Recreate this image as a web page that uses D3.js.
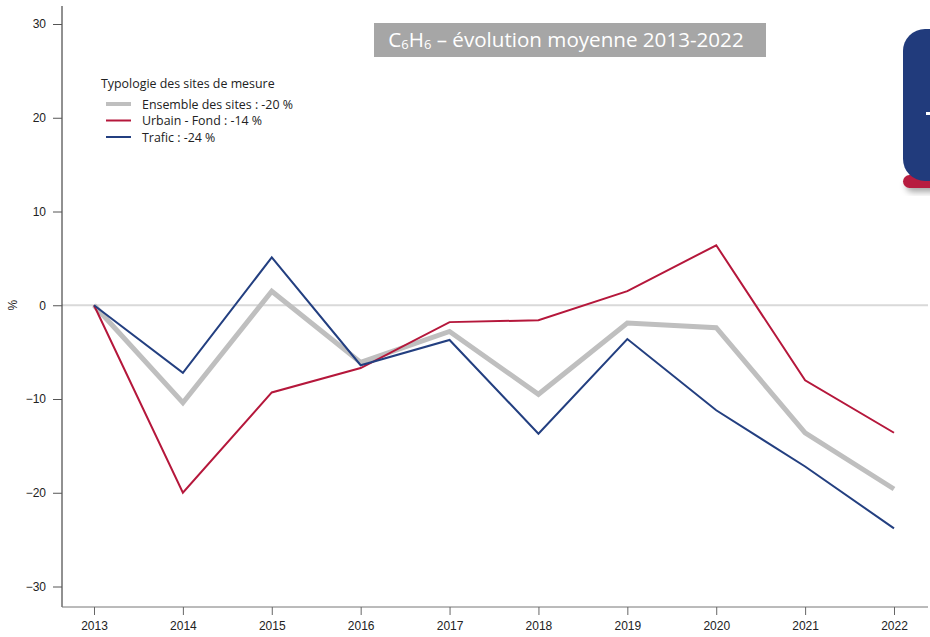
<!DOCTYPE html>
<html>
<head>
<meta charset="utf-8">
<script src="https://cdn.jsdelivr.net/npm/d3@7"></script>
<style>
  body { margin: 0; background: #fff; }
  svg { display: block; }
</style>
</head>
<body>
<svg width="930" height="637"></svg>
<script>
var years = [2013, 2014, 2015, 2016, 2017, 2018, 2019, 2020, 2021, 2022];
var ensemble = [0, -10.4, 1.5, -6.1, -2.8, -9.5, -1.9, -2.4, -13.6, -19.6];
var urbain = [0, -20.0, -9.3, -6.7, -1.8, -1.6, 1.5, 6.4, -8.0, -13.6];
var trafic = [0, -7.2, 5.1, -6.4, -3.7, -13.7, -3.6, -11.2, -17.2, -23.8];
var yTicks = [-30, -20, -10, 0, 10, 20, 30];
var seriesNames = ["Ensemble des sites : -20 %", "Urbain - Fond : -14 %", "Trafic : -24 %"];

var svg = d3.select("svg");

var series = [
  { name: seriesNames[0], values: ensemble, color: "#bfbfbf", width: 5 },
  { name: seriesNames[1], values: urbain, color: "#b5173b", width: 2 },
  { name: seriesNames[2], values: trafic, color: "#233f80", width: 2 }
];

var x = d3.scalePoint()
      .domain(years)
      .range([94, 894]);

var y = d3.scaleLinear()
      .domain([-30, 30])
      .range([586.5, 24]);

// decoration top right
var defs = svg.append("defs");
var f = defs.append("filter").attr("id", "shadow").attr("x", "-20%").attr("y", "-20%").attr("width", "160%").attr("height", "180%");
f.append("feDropShadow").attr("dx", 3).attr("dy", 4).attr("stdDeviation", 3).attr("flood-color", "#000").attr("flood-opacity", 0.35);

svg.append("rect")
  .attr("x", 903).attr("y", 175).attr("width", 60).attr("height", 13)
  .attr("rx", 6.5)
  .attr("fill", "#b71c3f")
  .attr("filter", "url(#shadow)");

svg.append("rect")
  .attr("x", 903).attr("y", 29).attr("width", 80).attr("height", 152)
  .attr("rx", 22)
  .attr("fill", "#213b7c");

svg.append("rect")
  .attr("x", 926).attr("y", 112).attr("width", 6).attr("height", 3)
  .attr("fill", "#fff");

// title box
svg.append("rect")
  .attr("x", 374).attr("y", 23).attr("width", 392).attr("height", 34)
  .attr("fill", "#a6a6a6");

var title = svg.append("text")
  .attr("x", 566).attr("y", 47)
  .attr("text-anchor", "middle")
  .attr("fill", "#fff")
  .style("font-family", "'Open Sans', sans-serif")
  .style("font-size", "20.6px");
title.append("tspan").text("C");
title.append("tspan").attr("dy", 2).style("font-size", "13px").text("6");
title.append("tspan").attr("dy", -2).text("H");
title.append("tspan").attr("dy", 2).style("font-size", "13px").text("6");
title.append("tspan").attr("dy", -2).text(" – évolution moyenne 2013-2022");

// zero line
svg.append("line")
  .attr("x1", 62).attr("x2", 928)
  .attr("y1", y(0)).attr("y2", y(0))
  .attr("stroke", "#d9d9d9")
  .attr("stroke-width", 2);

// axes
var yAxis = svg.append("g")
  .attr("transform", "translate(62,0)")
  .call(d3.axisLeft(y).tickValues(yTicks).tickSize(9).tickPadding(7).tickSizeOuter(0));
yAxis.select(".domain").attr("d", "M0,6V607").attr("stroke", "#222");
yAxis.selectAll(".tick line").attr("stroke", "#555");

var xAxis = svg.append("g")
  .attr("transform", "translate(0,607)")
  .call(d3.axisBottom(x).tickSize(8).tickPadding(6));
xAxis.select(".domain").attr("d", "M62,0H928").attr("stroke", "#777");
xAxis.selectAll(".tick line").attr("stroke", "#666");

svg.selectAll(".tick text")
  .attr("fill", "#222")
  .style("font-family", "'Liberation Sans', Arial, sans-serif")
  .style("font-size", "12px");

svg.append("text")
  .attr("transform", "translate(17," + y(0) + ") rotate(-90)")
  .attr("text-anchor", "middle")
  .attr("fill", "#222")
  .style("font-family", "'Liberation Sans', Arial, sans-serif")
  .style("font-size", "12px")
  .text("%");

// lines
var line = d3.line()
  .x(function(d, i) { return x(years[i]); })
  .y(function(d) { return y(d); });

svg.append("g").selectAll("path")
  .data(series)
  .enter().append("path")
  .attr("d", function(d) { return line(d.values); })
  .attr("fill", "none")
  .attr("stroke", function(d) { return d.color; })
  .attr("stroke-width", function(d) { return d.width; })
  .attr("stroke-linejoin", "miter");

// legend
var legend = svg.append("g")
  .style("font-family", "'Open Sans', sans-serif")
  .style("font-size", "12.4px")
  .attr("fill", "#222");

legend.append("text")
  .attr("x", 101).attr("y", 88)
  .text("Typologie des sites de mesure");

var item = legend.selectAll("g.item")
  .data(series)
  .enter().append("g")
  .attr("class", "item")
  .attr("transform", function(d, i) { return "translate(0," + (104 + i * 16.5) + ")"; });

item.append("line")
  .attr("x1", 106).attr("x2", 131)
  .attr("stroke", function(d) { return d.color; })
  .attr("stroke-width", function(d) { return d.width === 5 ? 4 : 2; });

item.append("text")
  .attr("x", 142).attr("y", 4.5)
  .text(function(d) { return d.name; });
</script>
</body>
</html>
